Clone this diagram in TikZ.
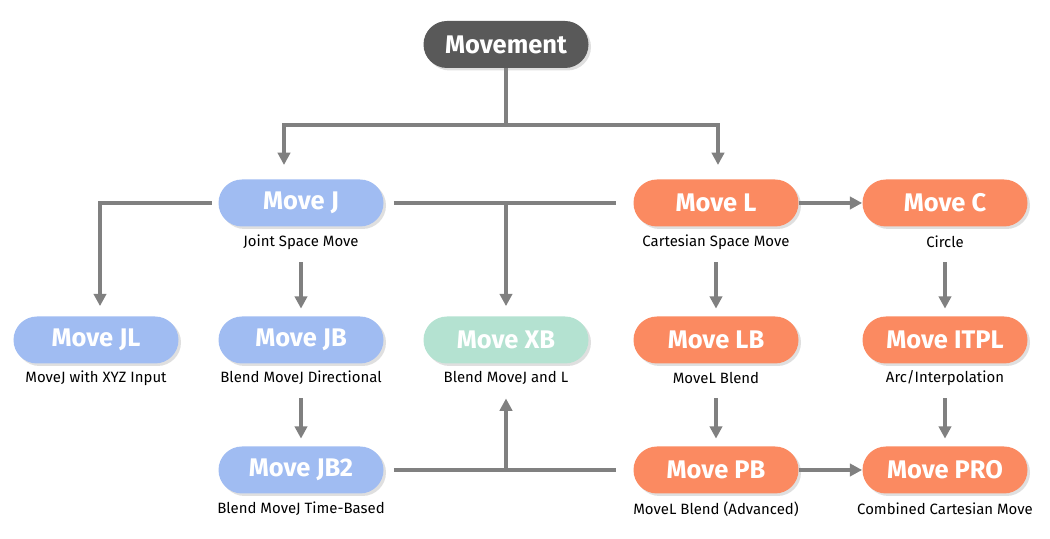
\documentclass[tikz,border=0pt]{standalone}
\usepackage{fontspec}
\setmainfont{Fira Sans}
\usetikzlibrary{arrows.meta, positioning, shadows, calc}
\definecolor{rootcolor}{RGB}{89, 89, 89}
\definecolor{jointcolor}{RGB}{160, 188, 242}
\definecolor{cartcolor}{RGB}{251, 138, 97}
\definecolor{blendcolor}{RGB}{180, 226, 209}
\definecolor{linkcolor}{RGB}{128, 128, 128}

\tikzset{
    pill/.style={rectangle, rounded corners=0.47cm, minimum width=3.3cm, minimum height=0.94cm, text=white,
        font=\bfseries\fontsize{14.5}{16}\selectfont,
        drop shadow={opacity=0.25, shadow xshift=0.05cm, shadow yshift=-0.05cm}},
    sublabel/.style={font=\fontsize{8.5}{10}\selectfont, text=black, inner sep=1pt},
    link/.style={draw=linkcolor, line width=2.2pt},
    arrowlink/.style={link, -{Triangle[length=7pt, width=7pt]}}
}

\begin{document}
\begin{tikzpicture}
        \useasboundingbox (0,0) rectangle (21,10.78);

        % Root
        \node[pill, fill=rootcolor] (movement) at (10.12, 9.89) {Movement};

        % Joint space family
        \node[pill, fill=jointcolor] (movej) at (6.02, 6.72) {Move J};
        \node[sublabel] (movejtxt) at (6.02, 5.94) {Joint Space Move};
        \node[pill, fill=jointcolor] (movejl) at (1.92, 3.98) {Move JL};
        \node[sublabel] (movejltxt) at (1.92, 3.22) {MoveJ with XYZ Input};
        \node[pill, fill=jointcolor] (movejb) at (6.02, 3.98) {Move JB};
        \node[sublabel] (movejbtxt) at (6.02, 3.22) {Blend MoveJ Directional};
        \node[pill, fill=jointcolor] (movejb2) at (6.02, 1.38) {Move JB2};
        \node[sublabel] (movejb2txt) at (6.02, 0.60) {Blend MoveJ Time-Based};

        % Mixed blend
        \node[pill, fill=blendcolor] (movexb) at (10.12, 3.98) {Move XB};
        \node[sublabel] (movexbtxt) at (10.12, 3.22) {Blend MoveJ and L};

        % Cartesian family
        \node[pill, fill=cartcolor] (movel) at (14.32, 6.72) {Move L};
        \node[sublabel] (moveltxt) at (14.32, 5.94) {Cartesian Space Move};
        \node[pill, fill=cartcolor] (movec) at (18.90, 6.72) {Move C};
        \node[sublabel] (movectxt) at (18.90, 5.94) {Circle};
        \node[pill, fill=cartcolor] (movelb) at (14.32, 3.98) {Move LB};
        \node[sublabel] (movelbtxt) at (14.32, 3.22) {MoveL Blend};
        \node[pill, fill=cartcolor] (moveitpl) at (18.90, 3.98) {Move ITPL};
        \node[sublabel] (moveitpltxt) at (18.90, 3.22) {Arc/Interpolation};
        \node[pill, fill=cartcolor] (movepb) at (14.32, 1.38) {Move PB};
        \node[sublabel] (movepbtxt) at (14.32, 0.60) {MoveL Blend (Advanced)};
        \node[pill, fill=cartcolor] (movepro) at (18.90, 1.38) {Move PRO};
        \node[sublabel] (moveprotxt) at (18.90, 0.60) {Combined Cartesian Move};

        % Junction points
        \coordinate (split) at (10.12, 8.28);
        \coordinate (jin) at (5.68, 7.48);
        \coordinate (lin) at (14.36, 7.48);
        \coordinate (toprow) at (10.12, 6.72);
        \coordinate (lowrow) at (10.12, 1.38);

        % Root connections
        \draw[arrowlink] (movement.south) -- (split) -| (jin);
        \draw[arrowlink] (split) -| (lin);

        % Joint row connections
        \draw[arrowlink] ([xshift=-0.13cm]movej.west) -| ($(movejl.north)+(0.08,0.2)$);
        \draw[link] ([xshift=0.2cm]movej.east) -- ([xshift=-0.35cm]movel.west);
        \draw[arrowlink] (toprow) -- ($(movexb.north)+(0,0.2)$);
        \draw[arrowlink] ($(movejtxt)+(0,-0.41)$) -- ($(movejb.north)+(0,0.15)$);
        \draw[arrowlink] ($(movejbtxt)+(0,-0.41)$) -- ($(movejb2.north)+(0,0.15)$);

        % Bottom row connections
        \draw[link] ([xshift=0.2cm]movejb2.east) -- ([xshift=-0.35cm]movepb.west);
        \draw[arrowlink] (lowrow) -- ($(movexbtxt)+(0,-0.41)$);

        % Cartesian connections
        \draw[arrowlink] (movel.east) -- (movec.west);
        \draw[arrowlink] ($(moveltxt)+(0,-0.41)$) -- ($(movelb.north)+(0,0.15)$);
        \draw[arrowlink] ($(movelbtxt)+(0,-0.41)$) -- ($(movepb.north)+(0,0.15)$);
        \draw[arrowlink] ($(movectxt)+(0,-0.41)$) -- ($(moveitpl.north)+(0,0.15)$);
        \draw[arrowlink] ($(moveitpltxt)+(0,-0.41)$) -- ($(movepro.north)+(0,0.15)$);
        \draw[arrowlink] (movepb.east) -- (movepro.west);
    \end{tikzpicture}
\end{document}
